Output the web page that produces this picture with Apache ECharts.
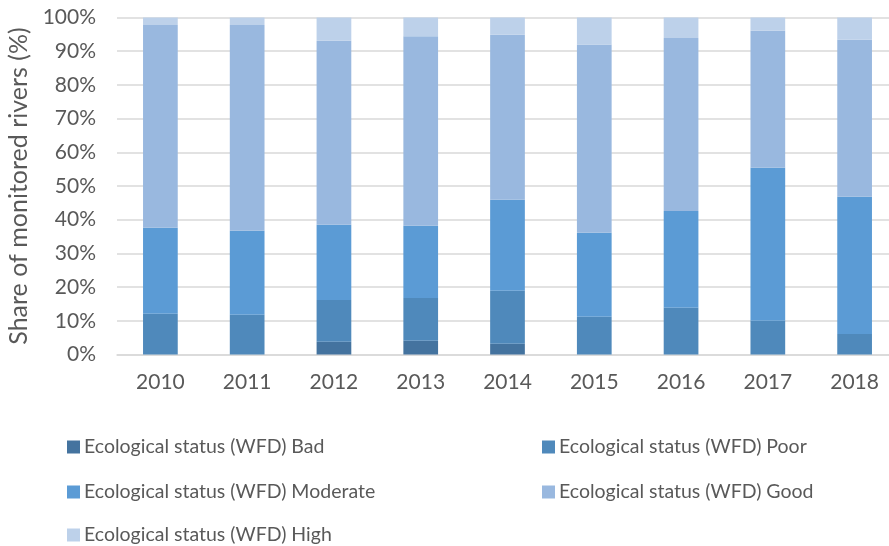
<!DOCTYPE html>
<html>
<head>
<meta charset="utf-8">
<script src="https://cdn.jsdelivr.net/npm/echarts@6/dist/echarts.min.js"></script>
<style>
  html, body { margin: 0; padding: 0; background: #fff; }
  #chart { width: 889px; height: 546px; }
</style>
</head>
<body>
<div id="chart"></div>
<script>
var years = ['2010', '2011', '2012', '2013', '2014', '2015', '2016', '2017', '2018'];
var bad      = [0,    0,    3.8,  4.1,  3.2,  0,    0,    0,    0];
var poor     = [12.1, 11.8, 12.4, 12.7, 15.7, 11.2, 13.9, 10.0, 6.1];
var moderate = [25.5, 24.9, 22.3, 21.4, 27.0, 24.9, 28.7, 45.4, 40.7];
var good     = [60.2, 61.1, 54.6, 56.2, 49.0, 55.9, 51.3, 40.7, 46.6];
var high     = [2.2,  2.2,  6.9,  5.6,  5.1,  8.0,  6.1,  3.9,  6.6];
var yTicks = [0, 10, 20, 30, 40, 50, 60, 70, 80, 90, 100];

var names = [
    'Ecological status (WFD) Bad',
    'Ecological status (WFD) Poor',
    'Ecological status (WFD) Moderate',
    'Ecological status (WFD) Good',
    'Ecological status (WFD) High'
];
var colors = ['#44739F', '#4F89BB', '#5B9BD5', '#99B8DF', '#BDD1EA'];
var values = [bad, poor, moderate, good, high];

var font = 'Lato, sans-serif';
var textColor = '#595959';

var series = [];
for (var i = 0; i < names.length; i++) {
    series.push({
        name: names[i],
        type: 'bar',
        stack: 'total',
        barWidth: '40%',
        itemStyle: { color: colors[i] },
        data: values[i]
    });
}

// legend laid out as two columns, one legend box per item
var legendPos = [[62, 432], [537, 432], [62, 477], [537, 477], [62, 520]];
var legends = [];
for (var j = 0; j < names.length; j++) {
    legends.push({
        left: legendPos[j][0],
        top: legendPos[j][1],
        data: [names[j]],
        itemWidth: 13,
        itemHeight: 13,
        itemGap: 4,
        icon: 'rect',
        textStyle: { fontFamily: font, fontSize: 19.5, color: textColor, padding: [0, 0, 0, -1] },
        selectedMode: false
    });
}

var chart = echarts.init(document.getElementById('chart'));
chart.setOption({
    animation: false,
    textStyle: { fontFamily: font },
    legend: legends,
    grid: { left: 117, top: 17.5, width: 781, height: 337, outerBoundsMode: 'none' },
    xAxis: {
        type: 'category',
        data: years,
        axisLine: { lineStyle: { color: '#D9D9D9', width: 1.5 } },
        axisTick: { show: false },
        axisLabel: { fontFamily: font, fontSize: 21, color: textColor, margin: 17 }
    },
    yAxis: {
        type: 'value',
        min: yTicks[0],
        max: yTicks[yTicks.length - 1],
        interval: 10,
        name: 'Share of monitored rivers (%)',
        nameLocation: 'middle',
        nameGap: 86,
        nameTextStyle: { fontFamily: font, fontSize: 25, color: textColor },
        axisLine: { show: false },
        axisTick: { show: false },
        splitLine: { lineStyle: { color: '#D9D9D9', width: 1.5 } },
        axisLabel: {
            fontFamily: font, fontSize: 21, color: textColor, margin: 21,
            formatter: function (v) { return v + '%'; }
        }
    },
    series: series
});
</script>
</body>
</html>
